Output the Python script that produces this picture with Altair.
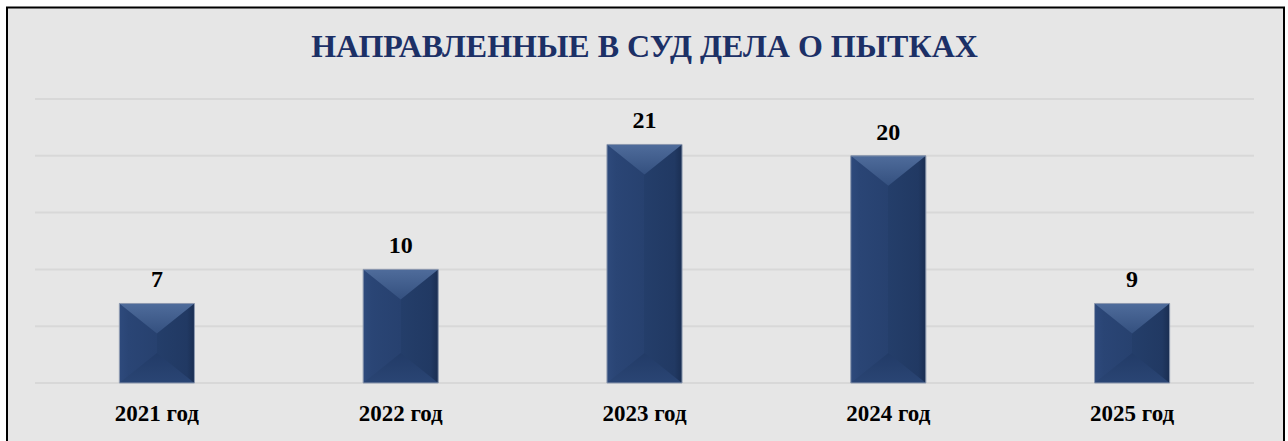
import altair as alt
import pandas as pd

categories = ["2021 год", "2022 год", "2023 год", "2024 год", "2025 год"]
bar_values = [7, 10, 21, 20, 7]
value_labels = ["7", "10", "21", "20", "9"]
grid_ticks = [0, 5, 10, 15, 20, 25]
title_text = "НАПРАВЛЕННЫЕ В СУД ДЕЛА О ПЫТКАХ"

df = pd.DataFrame({"year": categories, "value": bar_values, "label": value_labels})
df["zero"] = 0
grid_df = pd.DataFrame({"tick": grid_ticks})
frame_df = pd.DataFrame({"a": [0]})
title_df = pd.DataFrame({"t": [title_text]})

SERIF = "Liberation Serif"
W, H = 1219, 284

xenc = alt.X(
    "year:N",
    sort=categories,
    title=None,
    scale=alt.Scale(paddingInner=0.692, paddingOuter=0.346),
    axis=alt.Axis(
        labelFont=SERIF, labelFontSize=23, labelFontWeight="bold", labelColor="#000000",
        labelAngle=0, ticks=False, domain=False, grid=False, labelPadding=19, zindex=1,
    ),
)
yscale = alt.Scale(domain=[0, 25], nice=False, zero=True)

frame = alt.Chart(frame_df).mark_rect(
    fill="#e6e6e6", stroke="#000000", strokeWidth=2
).encode(
    x=alt.value(-28), x2=alt.value(1249), y=alt.value(-91.5), y2=alt.value(360)
)

title = alt.Chart(title_df).mark_text(
    font=SERIF, fontSize=32, fontWeight="bold", color="#1c3066",
    align="center", baseline="alphabetic",
).encode(x=alt.value(W / 2), y=alt.value(-42), text="t:N")

grid = alt.Chart(grid_df).mark_rule(color="#d8d8d8", strokeWidth=2).encode(
    y=alt.Y("tick:Q", scale=yscale, axis=None)
)

main_grad = alt.Gradient(
    gradient="linear", x1=0, y1=0, x2=1, y2=0,
    stops=[
        alt.GradientStop(offset=0, color="#2e4a7c"),
        alt.GradientStop(offset=0.12, color="#2a4575"),
        alt.GradientStop(offset=0.5, color="#27416f"),
        alt.GradientStop(offset=0.5, color="#243e6a"),
        alt.GradientStop(offset=0.9, color="#213963"),
        alt.GradientStop(offset=1, color="#1a2e52"),
    ],
)
top_grad = alt.Gradient(
    gradient="linear", x1=0, y1=0, x2=0, y2=1,
    stops=[
        alt.GradientStop(offset=0, color="#4f6c9b"),
        alt.GradientStop(offset=1, color="#34507f"),
    ],
)
bot_grad = alt.Gradient(
    gradient="linear", x1=0, y1=0, x2=0, y2=1,
    stops=[
        alt.GradientStop(offset=0, color="#223b67"),
        alt.GradientStop(offset=1, color="#2a4574"),
    ],
)

base = alt.Chart(df)

bars = base.mark_bar(fill=main_grad, stroke=None).encode(
    x=xenc,
    y=alt.Y("value:Q", scale=yscale, axis=None),
)

top_tri = base.mark_point(
    shape="M -1 0 L 1 0 L 0 0.8 Z", size=5625, filled=True, fill=top_grad, opacity=1, strokeWidth=0
).encode(x=xenc, y=alt.Y("value:Q", scale=yscale, axis=None))

bot_tri = base.mark_point(
    shape="M -1 0 L 1 0 L 0 -0.8 Z", size=5625, filled=True, fill=bot_grad, opacity=1, strokeWidth=0
).encode(x=xenc, y=alt.Y("zero:Q", scale=yscale, axis=None))

outline = base.mark_bar(fill=None, fillOpacity=0, stroke="#8e9ab0", strokeWidth=1).encode(
    x=xenc,
    y=alt.Y("value:Q", scale=yscale, axis=None),
)

labels = base.mark_text(
    font=SERIF, fontSize=24, fontWeight="bold", color="#000000", baseline="alphabetic", dy=-16
).encode(
    x=xenc,
    y=alt.Y("value:Q", scale=yscale, axis=None),
    text="label:N",
)

chart = alt.layer(frame, grid, bars, top_tri, bot_tri, outline, labels, title).properties(
    width=W,
    height=H,
    autosize="none",
    padding={"left": 35, "top": 99, "right": 34, "bottom": 58},
).configure(background="#ffffff").configure_view(stroke=None)

chart.save("out.html", embed_options={"renderer": "svg", "actions": False})
